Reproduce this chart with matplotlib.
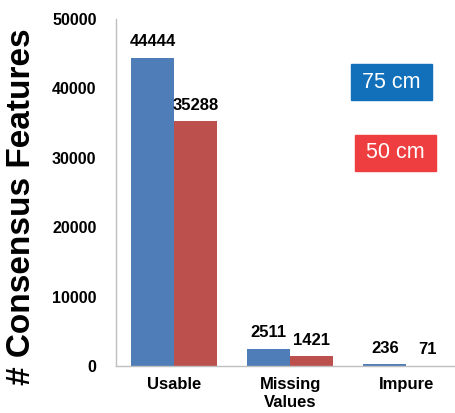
import matplotlib
matplotlib.use("Agg")
import matplotlib.pyplot as plt
import numpy as np
from matplotlib.patches import Rectangle

categories = ["Usable", "Missing\nValues", "Impure"]
series_75 = [44444, 2511, 236]
series_50 = [35288, 1421, 71]
legend_labels = ["75 cm", "50 cm"]
yticks = [0, 10000, 20000, 30000, 40000, 50000]

plt.rcParams['font.family'] = ['Liberation Sans', 'DejaVu Sans']

W, H = 455, 413
fig = plt.figure(figsize=(W/100, H/100), dpi=100)
ax = fig.add_axes([116/W, 1-366/H, (455-116)/W, (366-19)/H])

x = np.arange(len(categories))
bw = 0.37
b1 = ax.bar(x - bw/2, series_75, bw, color="#4F7DB8")
b2 = ax.bar(x + bw/2, series_50, bw, color="#BC504C")
ax.bar_label(b1, labels=[str(v) for v in series_75], padding=6, fontsize=12, fontweight='bold')
ax.bar_label(b2, labels=[str(v) for v in series_50], padding=6, fontsize=12, fontweight='bold')

ax.set_xlim(-0.5, 2.42)
ax.set_ylim(0, 50000)
ax.set_yticks(yticks)
ax.set_yticklabels([str(t) for t in yticks], fontsize=11.5, fontweight='bold')
ax.set_xticks(x)
ax.set_xticklabels(categories, fontsize=12, fontweight='bold', linespacing=1.2)
ax.tick_params(axis='y', length=0, pad=14)
ax.tick_params(axis='x', length=0, pad=8)
for s in ['top', 'right']:
    ax.spines[s].set_visible(False)
for s in ['left', 'bottom']:
    ax.spines[s].set_color('#BFBFBF')
    ax.spines[s].set_linewidth(1.0)

fig.text(22/W, 1-207/H, "# Consensus Features", rotation=90, fontsize=24,
         fontweight='bold', ha='center', va='center')

boxes = [(351, 64, 432, 100, "#1170B9"), (355, 135, 436, 171, "#EE3E40")]
for (x0, y0, x1, y1, c), lab in zip(boxes, legend_labels):
    fig.patches.append(Rectangle((x0/W, 1-y1/H), (x1-x0)/W, (y1-y0)/H,
                                 transform=fig.transFigure, color=c, zorder=5))
    fig.text((x0+x1)/2/W, 1-(y0+y1)/2/H, lab, color='white', fontsize=15.5,
             ha='center', va='center', zorder=6)

fig.savefig("out.png", dpi=100)
